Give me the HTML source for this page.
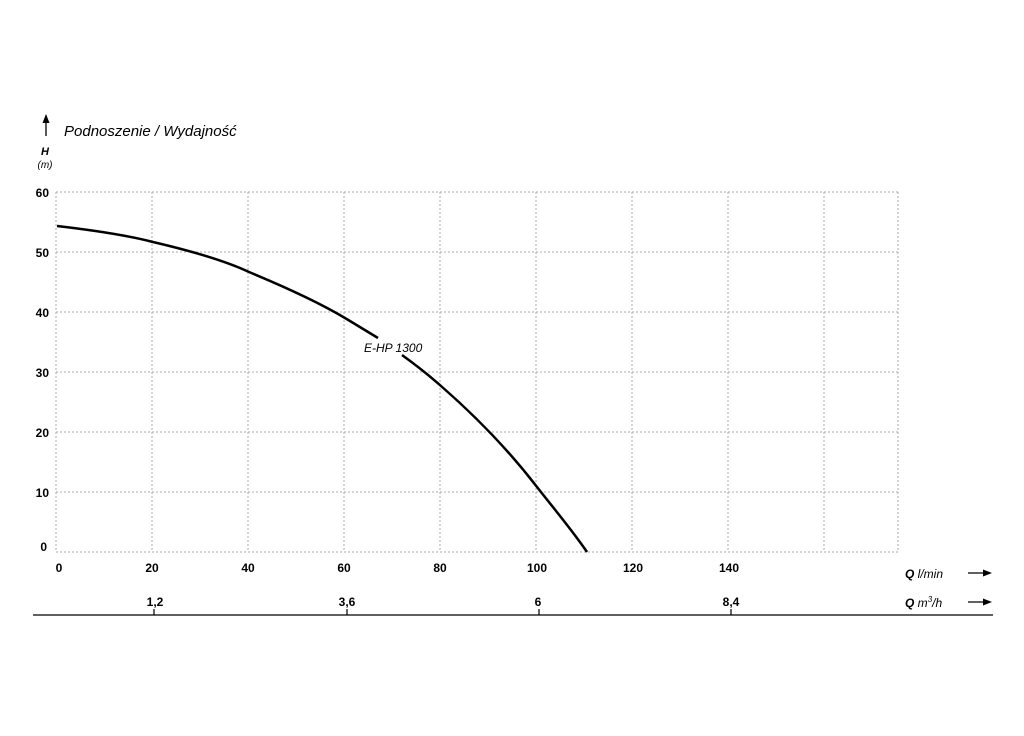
<!DOCTYPE html>
<html><head><meta charset="utf-8"><style>
body{margin:0;background:#fff;}
text{font-family:"Liberation Sans","DejaVu Sans",sans-serif;}
</style></head><body>
<svg width="1024" height="731" viewBox="0 0 1024 731" xmlns="http://www.w3.org/2000/svg">
<g stroke="#aaa" stroke-width="1" stroke-dasharray="2,2" fill="none">
<line x1="56" y1="192" x2="898" y2="192"/><line x1="56" y1="252" x2="898" y2="252"/>
<line x1="56" y1="312" x2="898" y2="312"/><line x1="56" y1="372" x2="898" y2="372"/>
<line x1="56" y1="432" x2="898" y2="432"/><line x1="56" y1="492" x2="898" y2="492"/>
<line x1="56" y1="552" x2="898" y2="552"/>
<line x1="56" y1="192" x2="56" y2="552"/><line x1="152" y1="192" x2="152" y2="552"/>
<line x1="248" y1="192" x2="248" y2="552"/><line x1="344" y1="192" x2="344" y2="552"/>
<line x1="440" y1="192" x2="440" y2="552"/><line x1="536" y1="192" x2="536" y2="552"/>
<line x1="632" y1="192" x2="632" y2="552"/><line x1="728" y1="192" x2="728" y2="552"/>
<line x1="824" y1="192" x2="824" y2="552"/><line x1="898" y1="192" x2="898" y2="552"/>
</g>
<g stroke="#000" stroke-width="2.5" fill="none">
<path d="M57,226 C100,231 130,236 153,242 C200,253 230,263 249,272 C290,289 320,303 345,318 C358,326 368,332 378,338"/>
<path d="M402,355 C420,368 432,378 441,386 C480,420 510,452 537,487 C555,510 572,530 587,552"/>
</g>
<text x="364" y="352" font-size="12" font-style="italic">E-HP 1300</text>
<g font-size="12" font-weight="bold" text-anchor="end">
<text x="49" y="197">60</text><text x="49" y="257">50</text><text x="49" y="317">40</text>
<text x="49" y="377">30</text><text x="49" y="437">20</text><text x="49" y="497">10</text>
<text x="47" y="551">0</text>
</g>
<g font-size="12" font-weight="bold" text-anchor="middle">
<text x="59" y="572">0</text><text x="152" y="572">20</text><text x="248" y="572">40</text>
<text x="344" y="572">60</text><text x="440" y="572">80</text><text x="537" y="572">100</text>
<text x="633" y="572">120</text><text x="729" y="572">140</text>
<text x="155" y="606">1,2</text><text x="347" y="606">3,6</text><text x="538" y="606">6</text><text x="731" y="606">8,4</text>
</g>
<line x1="33" y1="615" x2="993" y2="615" stroke="#000" stroke-width="1.2"/>
<g stroke="#000" stroke-width="1.2">
<line x1="154" y1="609" x2="154" y2="615"/><line x1="347" y1="609" x2="347" y2="615"/>
<line x1="539" y1="609" x2="539" y2="615"/><line x1="731" y1="609" x2="731" y2="615"/>
</g>
<text x="905" y="578" font-size="12" font-style="italic"><tspan font-weight="bold">Q</tspan> l/min</text>
<text x="905" y="607" font-size="12" font-style="italic"><tspan font-weight="bold">Q</tspan> m<tspan font-size="8" dy="-5">3</tspan><tspan dy="5">/h</tspan></text>
<g stroke="#000" stroke-width="1.3"><line x1="968" y1="573" x2="986" y2="573"/><line x1="968" y1="602" x2="986" y2="602"/></g>
<polygon points="992,573 983,569.5 983,576.5" fill="#000"/>
<polygon points="992,602 983,598.5 983,605.5" fill="#000"/>
<line x1="46" y1="120" x2="46" y2="136" stroke="#000" stroke-width="1.3"/>
<polygon points="46,114 42.5,123 49.5,123" fill="#000"/>
<text x="64" y="136" font-size="15" font-style="italic">Podnoszenie / Wydajność</text>
<text x="45" y="155" font-size="11" font-weight="bold" font-style="italic" text-anchor="middle">H</text>
<text x="45" y="168" font-size="10" font-style="italic" text-anchor="middle">(m)</text>
</svg>
</body></html>
